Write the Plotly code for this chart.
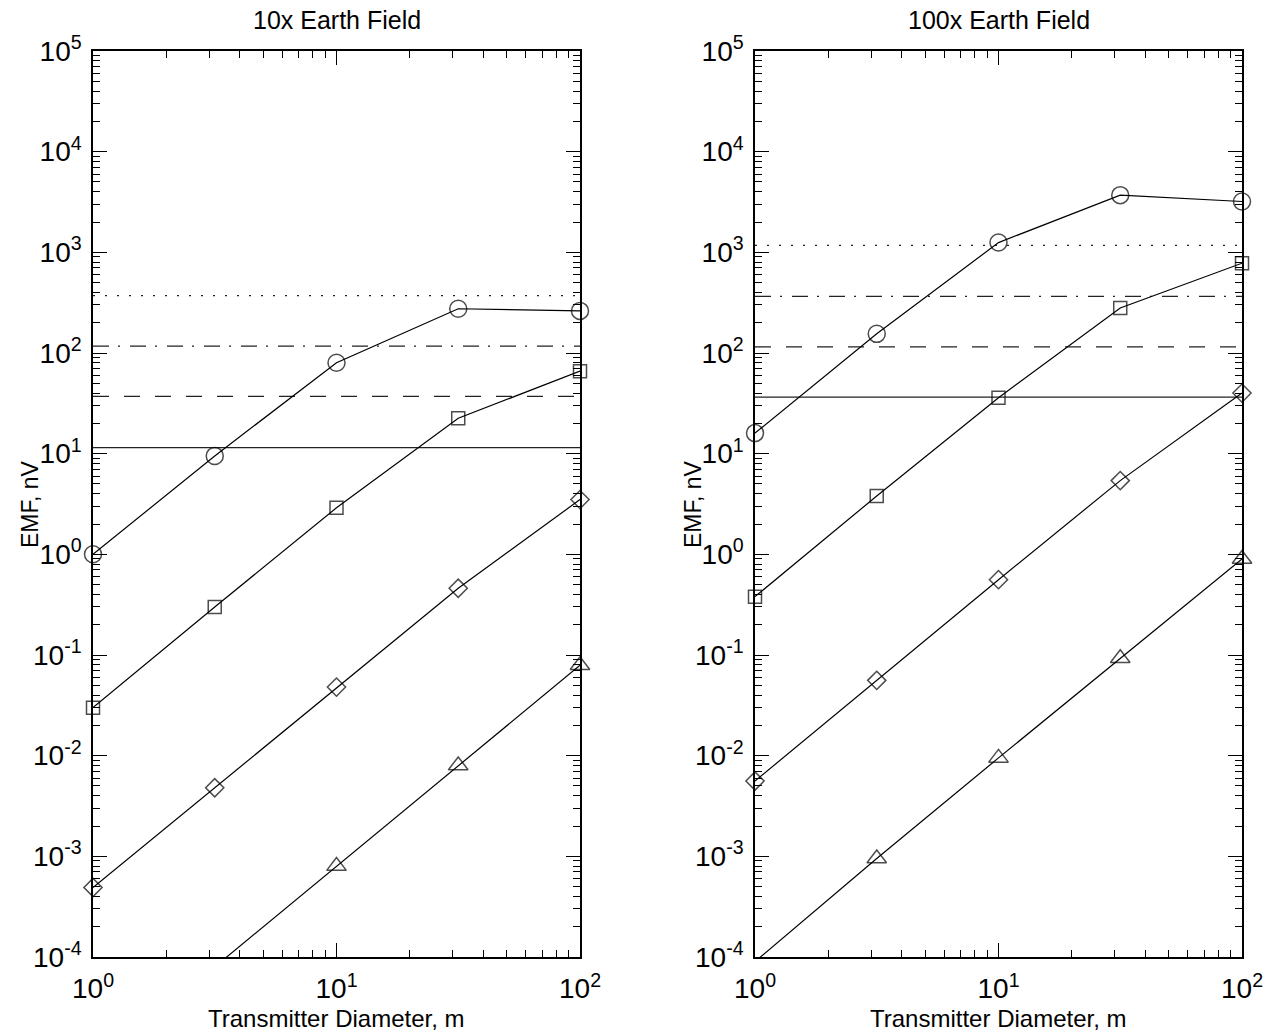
import plotly.graph_objects as go

# ---- data ----
diam = [1.0, 3.162, 10.0, 31.62, 100.0]

circ_10 = [1.0, 9.5, 80.0, 275.0, 262.0]
sq_10 = [0.030, 0.30, 2.9, 22.5, 66.0]
dia_10 = [0.00049, 0.0048, 0.048, 0.46, 3.5]
tri_10 = [8.0e-6, 8.0e-5, 0.00080, 0.0080, 0.079]
levels_10 = [11.5, 37.0, 117.0, 372.0]

circ_100 = [16.0, 155.0, 1250.0, 3700.0, 3200.0]
sq_100 = [0.38, 3.8, 36.0, 280.0, 780.0]
dia_100 = [0.0056, 0.056, 0.56, 5.4, 40.0]
tri_100 = [9.0e-5, 0.00095, 0.0095, 0.093, 0.90]
levels_100 = [36.5, 115.0, 365.0, 1170.0]

level_dash = ["solid", "16px,15px", "16px,9px,2px,10px", "2px,10px"]
titles = ["10x Earth Field", "100x Earth Field"]

Y_MIN_EXP, Y_MAX_EXP = -4, 5
y_tickvals = [10.0 ** k for k in range(Y_MIN_EXP, Y_MAX_EXP + 1)]
y_ticktext = ["10<sup>%d</sup>" % k for k in range(Y_MIN_EXP, Y_MAX_EXP + 1)]
y_minor = [m * 10.0 ** k for k in range(Y_MIN_EXP, Y_MAX_EXP) for m in range(2, 10)]
x_tickvals = [1, 10, 100]
x_ticktext = ["10<sup>0</sup>", "10<sup>1</sup>", "10<sup>2</sup>"]
x_minor = [m * 10.0 ** k for k in range(0, 2) for m in range(2, 10)]

FONT = "Liberation Sans, Arial, Helvetica, sans-serif"
W, H = 1271, 1032

fig = go.Figure()

panels = [
    dict(series=[circ_10, sq_10, dia_10, tri_10], levels=levels_10, xa="x", ya="y"),
    dict(series=[circ_100, sq_100, dia_100, tri_100], levels=levels_100, xa="x2", ya="y2"),
]
symbols = ["circle-open", "square-open", "diamond-open", "triangle-up-open"]
sizes = [17, 13, 14, 17]

ymin = 10.0 ** Y_MIN_EXP
for p in panels:
    for lv, dash in zip(p["levels"], level_dash):
        fig.add_trace(go.Scatter(x=[diam[0], diam[-1]], y=[lv, lv], mode="lines",
                                 line=dict(color="#222", width=1.3, dash=dash),
                                 xaxis=p["xa"], yaxis=p["ya"], showlegend=False,
                                 hoverinfo="skip"))
    for ser, sym, sz in zip(p["series"], symbols, sizes):
        # markers for points below the visible axis range are not drawn
        msizes = [sz if v >= ymin else 0 for v in ser]
        fig.add_trace(go.Scatter(x=diam, y=ser, mode="lines+markers", cliponaxis=False,
                                 line=dict(color="black", width=1.2),
                                 marker=dict(symbol=sym, size=msizes, color="black",
                                             line=dict(color="black", width=1.5)),
                                 xaxis=p["xa"], yaxis=p["ya"], showlegend=False))

xdomains = [[93 / W, 580 / W], [755 / W, 1242 / W]]
ydomain = [(H - 957) / H, (H - 51) / H]

axis_common = dict(type="log", showgrid=False, zeroline=False, showline=True,
                   linecolor="black", linewidth=1.5, mirror="allticks", automargin=False,
                   ticks="inside", ticklen=14, tickwidth=1.2, tickcolor="black",
                   tickfont=dict(family=FONT, size=28, color="black"))

layout = dict(width=W, height=H, margin=dict(l=0, r=0, t=0, b=0),
              paper_bgcolor="white", plot_bgcolor="white", showlegend=False)

for i, (xn, yn) in enumerate([("xaxis", "yaxis"), ("xaxis2", "yaxis2")]):
    xa = dict(axis_common)
    xa.update(domain=xdomains[i], range=[0, 2], tickmode="array", tickvals=x_tickvals,
              ticktext=x_ticktext, anchor="y" if i == 0 else "y2", ticklabelstandoff=6,
              minor=dict(tickmode="array", tickvals=x_minor, ticks="inside", ticklen=7,
                         tickwidth=1, tickcolor="black", showgrid=False))
    ya = dict(axis_common)
    ya.update(domain=ydomain, range=[Y_MIN_EXP, Y_MAX_EXP], tickmode="array",
              tickvals=y_tickvals, ticktext=y_ticktext, anchor="x" if i == 0 else "x2",
              ticklabelstandoff=4,
              minor=dict(tickmode="array", tickvals=y_minor, ticks="inside", ticklen=7,
                         tickwidth=1, tickcolor="black", showgrid=False))
    layout[xn] = xa
    layout[yn] = ya

fig.update_layout(**layout)

centers = [(93 + 580) / 2 / W, (755 + 1242) / 2 / W]
ylabel_x = [30 / W, 693 / W]
for i in range(2):
    fig.add_annotation(text=titles[i], xref="paper", yref="paper", x=centers[i], y=1 - 20 / H,
                       xanchor="center", yanchor="middle", showarrow=False,
                       font=dict(family=FONT, size=25, color="black"))
    fig.add_annotation(text="Transmitter Diameter, m", xref="paper", yref="paper",
                       x=centers[i], y=1 - 1018 / H, xanchor="center", yanchor="middle",
                       showarrow=False, font=dict(family=FONT, size=24, color="black"))
    fig.add_annotation(text="EMF, nV", xref="paper", yref="paper", x=ylabel_x[i],
                       y=1 - 504 / H, xanchor="center", yanchor="middle", textangle=-90,
                       showarrow=False, font=dict(family=FONT, size=23, color="black"))

fig.write_html("out.html")
